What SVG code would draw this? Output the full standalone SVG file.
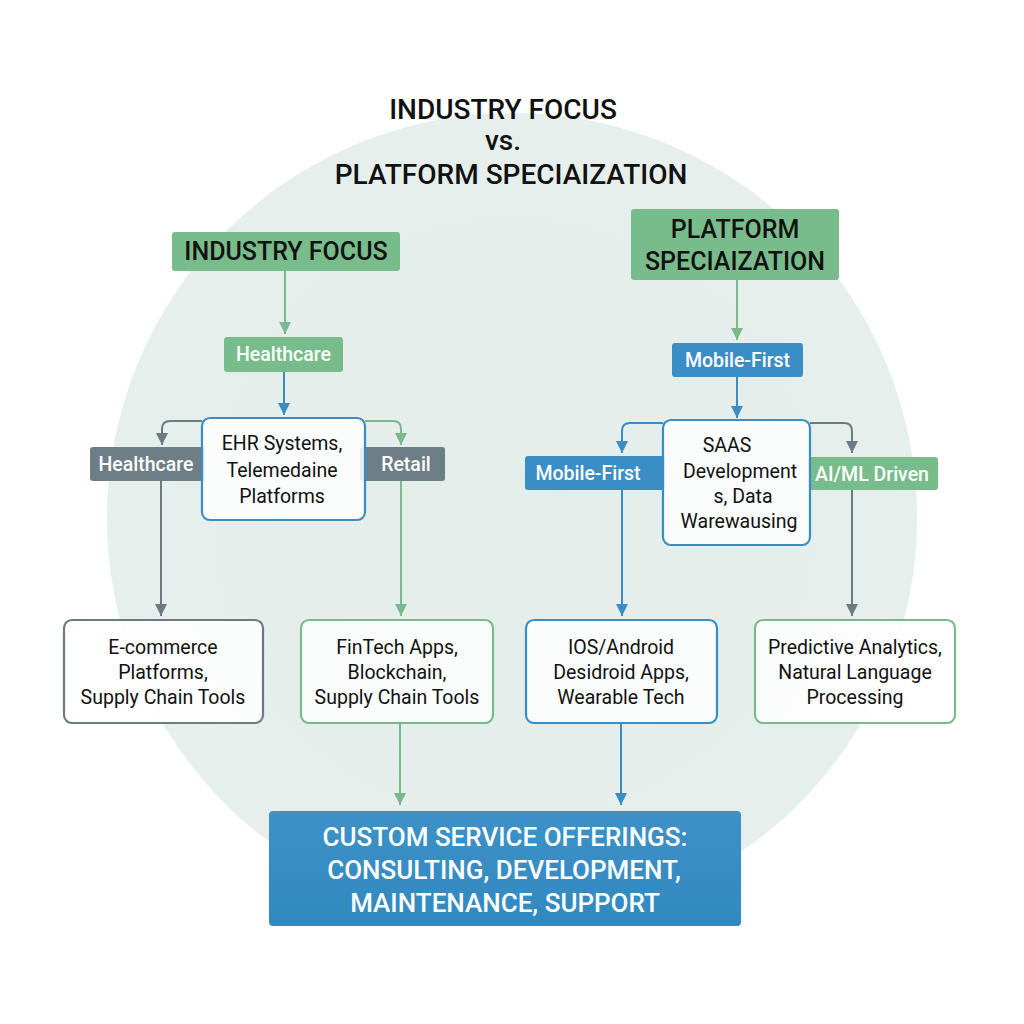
<svg xmlns="http://www.w3.org/2000/svg" width="1024" height="1024" viewBox="0 0 1024 1024">
<defs>
<style>
text{font-family:Roboto,"Liberation Sans",sans-serif;text-anchor:middle}
.title{font-size:28px;fill:#111;font-weight:500}
.hdr{font-size:25px;fill:#111;font-weight:500}
.lbl{font-size:19.5px;fill:#fff;font-weight:500}
.body{font-size:19.5px;fill:#111}
.big{font-size:26px;fill:#fff;font-weight:500}
.gfill{fill:#79bc8c}
.bfill{fill:#3a8dc5}
.yfill{fill:#6e7e87}
.card{fill:#fff;fill-opacity:.85;stroke-width:2.2}
.cg{stroke:#79b98c}.cb{stroke:#3a8cc4}.cy{stroke:#6c7a82}
.ln{fill:none;stroke-width:2}
</style>
<marker id="ah" markerWidth="14" markerHeight="12" refX="12" refY="6" orient="auto" markerUnits="userSpaceOnUse" viewBox="0 0 14 12"><path d="M0,0 L12,6 L0,12 Z" fill="#79b98c"/></marker>
<marker id="ab" markerWidth="14" markerHeight="12" refX="12" refY="6" orient="auto" markerUnits="userSpaceOnUse" viewBox="0 0 14 12"><path d="M0,0 L12,6 L0,12 Z" fill="#3a8cc4"/></marker>
<marker id="ay" markerWidth="14" markerHeight="12" refX="12" refY="6" orient="auto" markerUnits="userSpaceOnUse" viewBox="0 0 14 12"><path d="M0,0 L12,6 L0,12 Z" fill="#6c7a82"/></marker>
<radialGradient id="bg" cx="0.5" cy="0.5" r="0.5"><stop offset="0" stop-color="#e3edea"/><stop offset="1" stop-color="#e6efec"/></radialGradient>
<linearGradient id="bl" x1="0" y1="0" x2="0" y2="1"><stop offset="0" stop-color="#3d91c7"/><stop offset="1" stop-color="#3189c0"/></linearGradient>
</defs>
<rect width="1024" height="1024" fill="#ffffff"/>
<circle cx="512" cy="518" r="405" fill="url(#bg)"/>

<g id="title">
<text class="title" x="503" y="119">INDUSTRY FOCUS</text>
<text class="title" x="503" y="150">vs.</text>
<text class="title" x="511" y="184">PLATFORM SPECIAIZATION</text>
</g>

<g id="connectors">
<path class="ln" d="M285,271 V334" stroke="#79b98c" marker-end="url(#ah)"/>
<path class="ln" d="M284,372 V415" stroke="#3a8cc4" marker-end="url(#ab)"/>
<path class="ln" d="M202,421 H170 Q162,421 162,429 V445" stroke="#6c7a82" marker-end="url(#ay)"/>
<path class="ln" d="M365,421 H393 Q401,421 401,429 V445" stroke="#79b98c" marker-end="url(#ah)"/>
<path class="ln" d="M161,481 V616" stroke="#6c7a82" marker-end="url(#ay)"/>
<path class="ln" d="M401,481 V616" stroke="#79b98c" marker-end="url(#ah)"/>
<path class="ln" d="M400,723 V805" stroke="#79b98c" marker-end="url(#ah)"/>
<path class="ln" d="M621,723 V805" stroke="#3a8cc4" marker-end="url(#ab)"/>
<path class="ln" d="M737,280 V340" stroke="#79b98c" marker-end="url(#ah)"/>
<path class="ln" d="M737,377 V418" stroke="#3a8cc4" marker-end="url(#ab)"/>
<path class="ln" d="M663,423 H630 Q622,423 622,431 V453" stroke="#3a8cc4" marker-end="url(#ab)"/>
<path class="ln" d="M810,423 H844 Q852,423 852,431 V453" stroke="#6c7a82" marker-end="url(#ay)"/>
<path class="ln" d="M622,490 V616" stroke="#3a8cc4" marker-end="url(#ab)"/>
<path class="ln" d="M852,490 V616" stroke="#6c7a82" marker-end="url(#ay)"/>
</g>

<g id="industry-focus">
<rect class="gfill" x="172" y="232" width="228" height="39" rx="3"/>
<text class="hdr" x="286" y="260">INDUSTRY FOCUS</text>
</g>
<g id="healthcare-top">
<rect class="gfill" x="224" y="337" width="119" height="35" rx="3"/>
<text class="lbl" x="283.5" y="361">Healthcare</text>
</g>
<g id="healthcare-gray">
<rect class="yfill" x="90" y="447" width="115" height="34" rx="3"/>
<text class="lbl" x="146" y="471">Healthcare</text>
</g>
<g id="retail">
<rect class="yfill" x="360" y="447" width="85" height="34" rx="3"/>
<text class="lbl" x="406" y="471">Retail</text>
</g>
<g id="ehr">
<rect class="card cb" x="202" y="418" width="163" height="102" rx="8" fill="#fff" fill-opacity="1"/>
<text class="body" x="282" y="450">EHR Systems,</text>
<text class="body" x="282" y="477">Telemedaine</text>
<text class="body" x="282" y="503">Platforms</text>
</g>
<g id="ecommerce">
<rect class="card cy" x="64" y="620" width="199" height="103" rx="8"/>
<text class="body" x="163" y="654">E-commerce</text>
<text class="body" x="163" y="679">Platforms,</text>
<text class="body" x="163" y="704">Supply Chain Tools</text>
</g>
<g id="fintech">
<rect class="card cg" x="301" y="620" width="192" height="103" rx="8"/>
<text class="body" x="397" y="654">FinTech Apps,</text>
<text class="body" x="397" y="679">Blockchain,</text>
<text class="body" x="397" y="704">Supply Chain Tools</text>
</g>

<g id="platform-specialization">
<rect class="gfill" x="631" y="209" width="208" height="71" rx="3"/>
<text class="hdr" x="735" y="238">PLATFORM</text>
<text class="hdr" x="735" y="270">SPECIAIZATION</text>
</g>
<g id="mobile-first-top">
<rect class="bfill" x="672" y="343" width="131" height="34" rx="3"/>
<text class="lbl" x="737.5" y="367">Mobile-First</text>
</g>
<g id="mobile-first-left">
<rect class="bfill" x="525" y="456" width="140" height="34" rx="3"/>
<text class="lbl" x="588" y="480">Mobile-First</text>
</g>
<g id="aiml">
<rect class="gfill" x="808" y="457" width="130" height="33" rx="3"/>
<text class="lbl" x="872" y="481">AI/ML Driven</text>
</g>
<g id="saas">
<rect class="card cb" x="663" y="420" width="147" height="125" rx="8" fill="#fff" fill-opacity="1"/>
<text class="body" x="727" y="452">SAAS</text>
<text class="body" x="740" y="478">Development</text>
<text class="body" x="743" y="503">s, Data</text>
<text class="body" x="739" y="528">Warewausing</text>
</g>
<g id="ios">
<rect class="card cb" x="526" y="620" width="191" height="103" rx="8"/>
<text class="body" x="621" y="654">IOS/Android</text>
<text class="body" x="621" y="679">Desidroid Apps,</text>
<text class="body" x="621" y="704">Wearable Tech</text>
</g>
<g id="predictive">
<rect class="card cg" x="755" y="620" width="200" height="103" rx="8"/>
<text class="body" x="855" y="654">Predictive Analytics,</text>
<text class="body" x="855" y="679">Natural Language</text>
<text class="body" x="855" y="704">Processing</text>
</g>

<g id="custom-services">
<rect x="269" y="811" width="472" height="115" rx="4" fill="url(#bl)"/>
<text class="big" x="505" y="846">CUSTOM SERVICE OFFERINGS:</text>
<text class="big" x="504" y="879">CONSULTING, DEVELOPMENT,</text>
<text class="big" x="505" y="912">MAINTENANCE, SUPPORT</text>
</g>
</svg>
